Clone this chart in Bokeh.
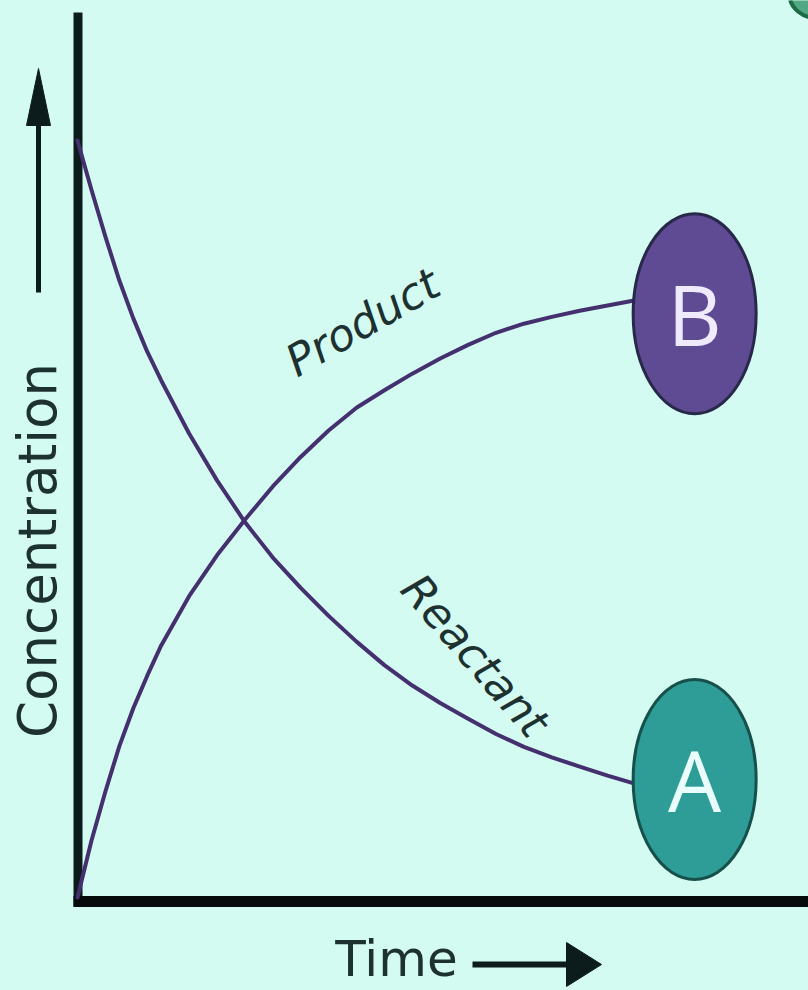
import math
from bokeh.plotting import figure
from bokeh.models import Range1d
from bokeh.core.properties import value
from bokeh.embed import file_html
from bokeh.resources import INLINE

# ---------------- data ----------------
time = [0, 0.25, 0.5, 0.75, 1.0, 1.25, 1.5, 2.0, 2.5, 3.0, 3.5, 4.0, 4.5,
        5.0, 5.5, 6.0, 6.5, 7.0, 7.5, 8.0, 8.5, 9.0, 9.5, 10.0]
reactant = [1.000, 0.935, 0.873, 0.815, 0.765, 0.721, 0.683, 0.613, 0.551, 0.496, 0.449, 0.409, 0.372,
            0.338, 0.307, 0.280, 0.257, 0.236, 0.216, 0.199, 0.185, 0.173, 0.161, 0.150]
product = [0.000, 0.075, 0.140, 0.200, 0.250, 0.293, 0.333, 0.398, 0.452, 0.499, 0.543, 0.582, 0.617,
           0.647, 0.670, 0.692, 0.712, 0.730, 0.746, 0.758, 0.767, 0.775, 0.782, 0.789]

species = ["A", "B"]
species_time = [11.06, 11.06]
species_conc = [0.156, 0.771]

curve_labels = ["Product", "Reactant"]
curve_label_time = [5.11, 7.13]
curve_label_conc = [0.76, 0.32]
curve_label_angle_deg = [30, -49]

x_label = "Time"
y_label = "Concentration"

# ---------------- styles ----------------
BG = "#d4fbf2"
CURVE = "#45306f"
INK = "#0c1c1c"
TEXT = "#1c3130"
FILL = {"A": "#2e9d97", "B": "#5f4b93"}
EDGE = {"A": "#17504b", "B": "#28294a"}
LETTER = {"A": "#eafffb", "B": "#f0eaff"}

W, H = 808, 990
SX, SY = 55.8, 757.0          # pixels per data unit
X0PIX, Y0PIX = 77.0, 897.0    # page pixel of (t=0, c=0)

def X(px):   # page pixel -> time units (decorations only)
    return (px - X0PIX) / SX

def Y(py):   # page pixel -> concentration units (decorations only)
    return (Y0PIX - py) / SY

p = figure(width=W, height=H,
           x_range=Range1d(-X0PIX / SX, (W - X0PIX) / SX),
           y_range=Range1d(-(H - Y0PIX) / SY, Y0PIX / SY),
           x_axis_type=None, y_axis_type=None,
           toolbar_location=None, output_backend="svg",
           min_border=0, background_fill_color=BG, border_fill_color=BG,
           outline_line_color=None)

# corner fragment (top right)
p.ellipse(x=[X(818)], y=[Y(-6)], width=58, height=48, width_units="screen", height_units="screen",
          fill_color="#52a884", line_color="#1d6b47", line_width=4)

# axes lines
p.segment(x0=[X(77.5)], y0=[Y(906)], x1=[X(77.5)], y1=[Y(12)], line_width=9, line_color=INK)
p.segment(x0=[X(73)], y0=[Y(901)], x1=[X(812)], y1=[Y(901)], line_width=11, line_color="#050b0b")

# axis arrows
p.segment(x0=[X(38)], y0=[Y(292)], x1=[X(38)], y1=[Y(118)], line_width=5, line_color=INK)
p.patch(x=[X(38), X(26), X(50)], y=[Y(68), Y(125), Y(125)], fill_color=INK, line_color=INK)
p.segment(x0=[X(472)], y0=[Y(964)], x1=[X(572)], y1=[Y(964)], line_width=6, line_color=INK)
p.patch(x=[X(601), X(566), X(566)], y=[Y(964), Y(942), Y(986)], fill_color=INK, line_color=INK)

# axis titles
p.text(x=[X(37)], y=[Y(550)], text=[y_label], angle=math.pi / 2,
       text_align="center", text_baseline="middle", text_font_size="53px",
       text_font=value("DejaVu Sans"), text_color=TEXT)
p.text(x=[X(396)], y=[Y(958)], text=[x_label],
       text_align="center", text_baseline="middle", text_font_size="50px",
       text_font=value("DejaVu Sans"), text_color=TEXT)

# curves
p.line(time, product, line_width=4, line_color=CURVE, line_cap="round", line_join="round")
p.line(time, reactant, line_width=4, line_color=CURVE, line_cap="round", line_join="round")

# curve labels
p.text(x=curve_label_time, y=curve_label_conc, text=curve_labels,
       angle=[math.radians(a) for a in curve_label_angle_deg],
       text_align="center", text_baseline="middle", text_font_size="44px",
       text_font_style="italic", text_font=value("DejaVu Sans"), text_color=TEXT)

# species circles
p.ellipse(x=species_time, y=species_conc, width=123, height=200,
          width_units="screen", height_units="screen",
          fill_color=[FILL[s] for s in species], line_color=[EDGE[s] for s in species],
          line_width=3)
p.text(x=species_time, y=species_conc, text=species,
       text_align="center", text_baseline="middle", text_font_size="84px",
       text_font=value("Open Sans"), text_color=[LETTER[s] for s in species])

html = file_html(p, INLINE)
html = html.replace("</head>",
                    "<style>html,body{background-color:%s;margin:0;padding:0;overflow:hidden;}</style></head>" % BG, 1)
open("out.html", "w").write(html)
